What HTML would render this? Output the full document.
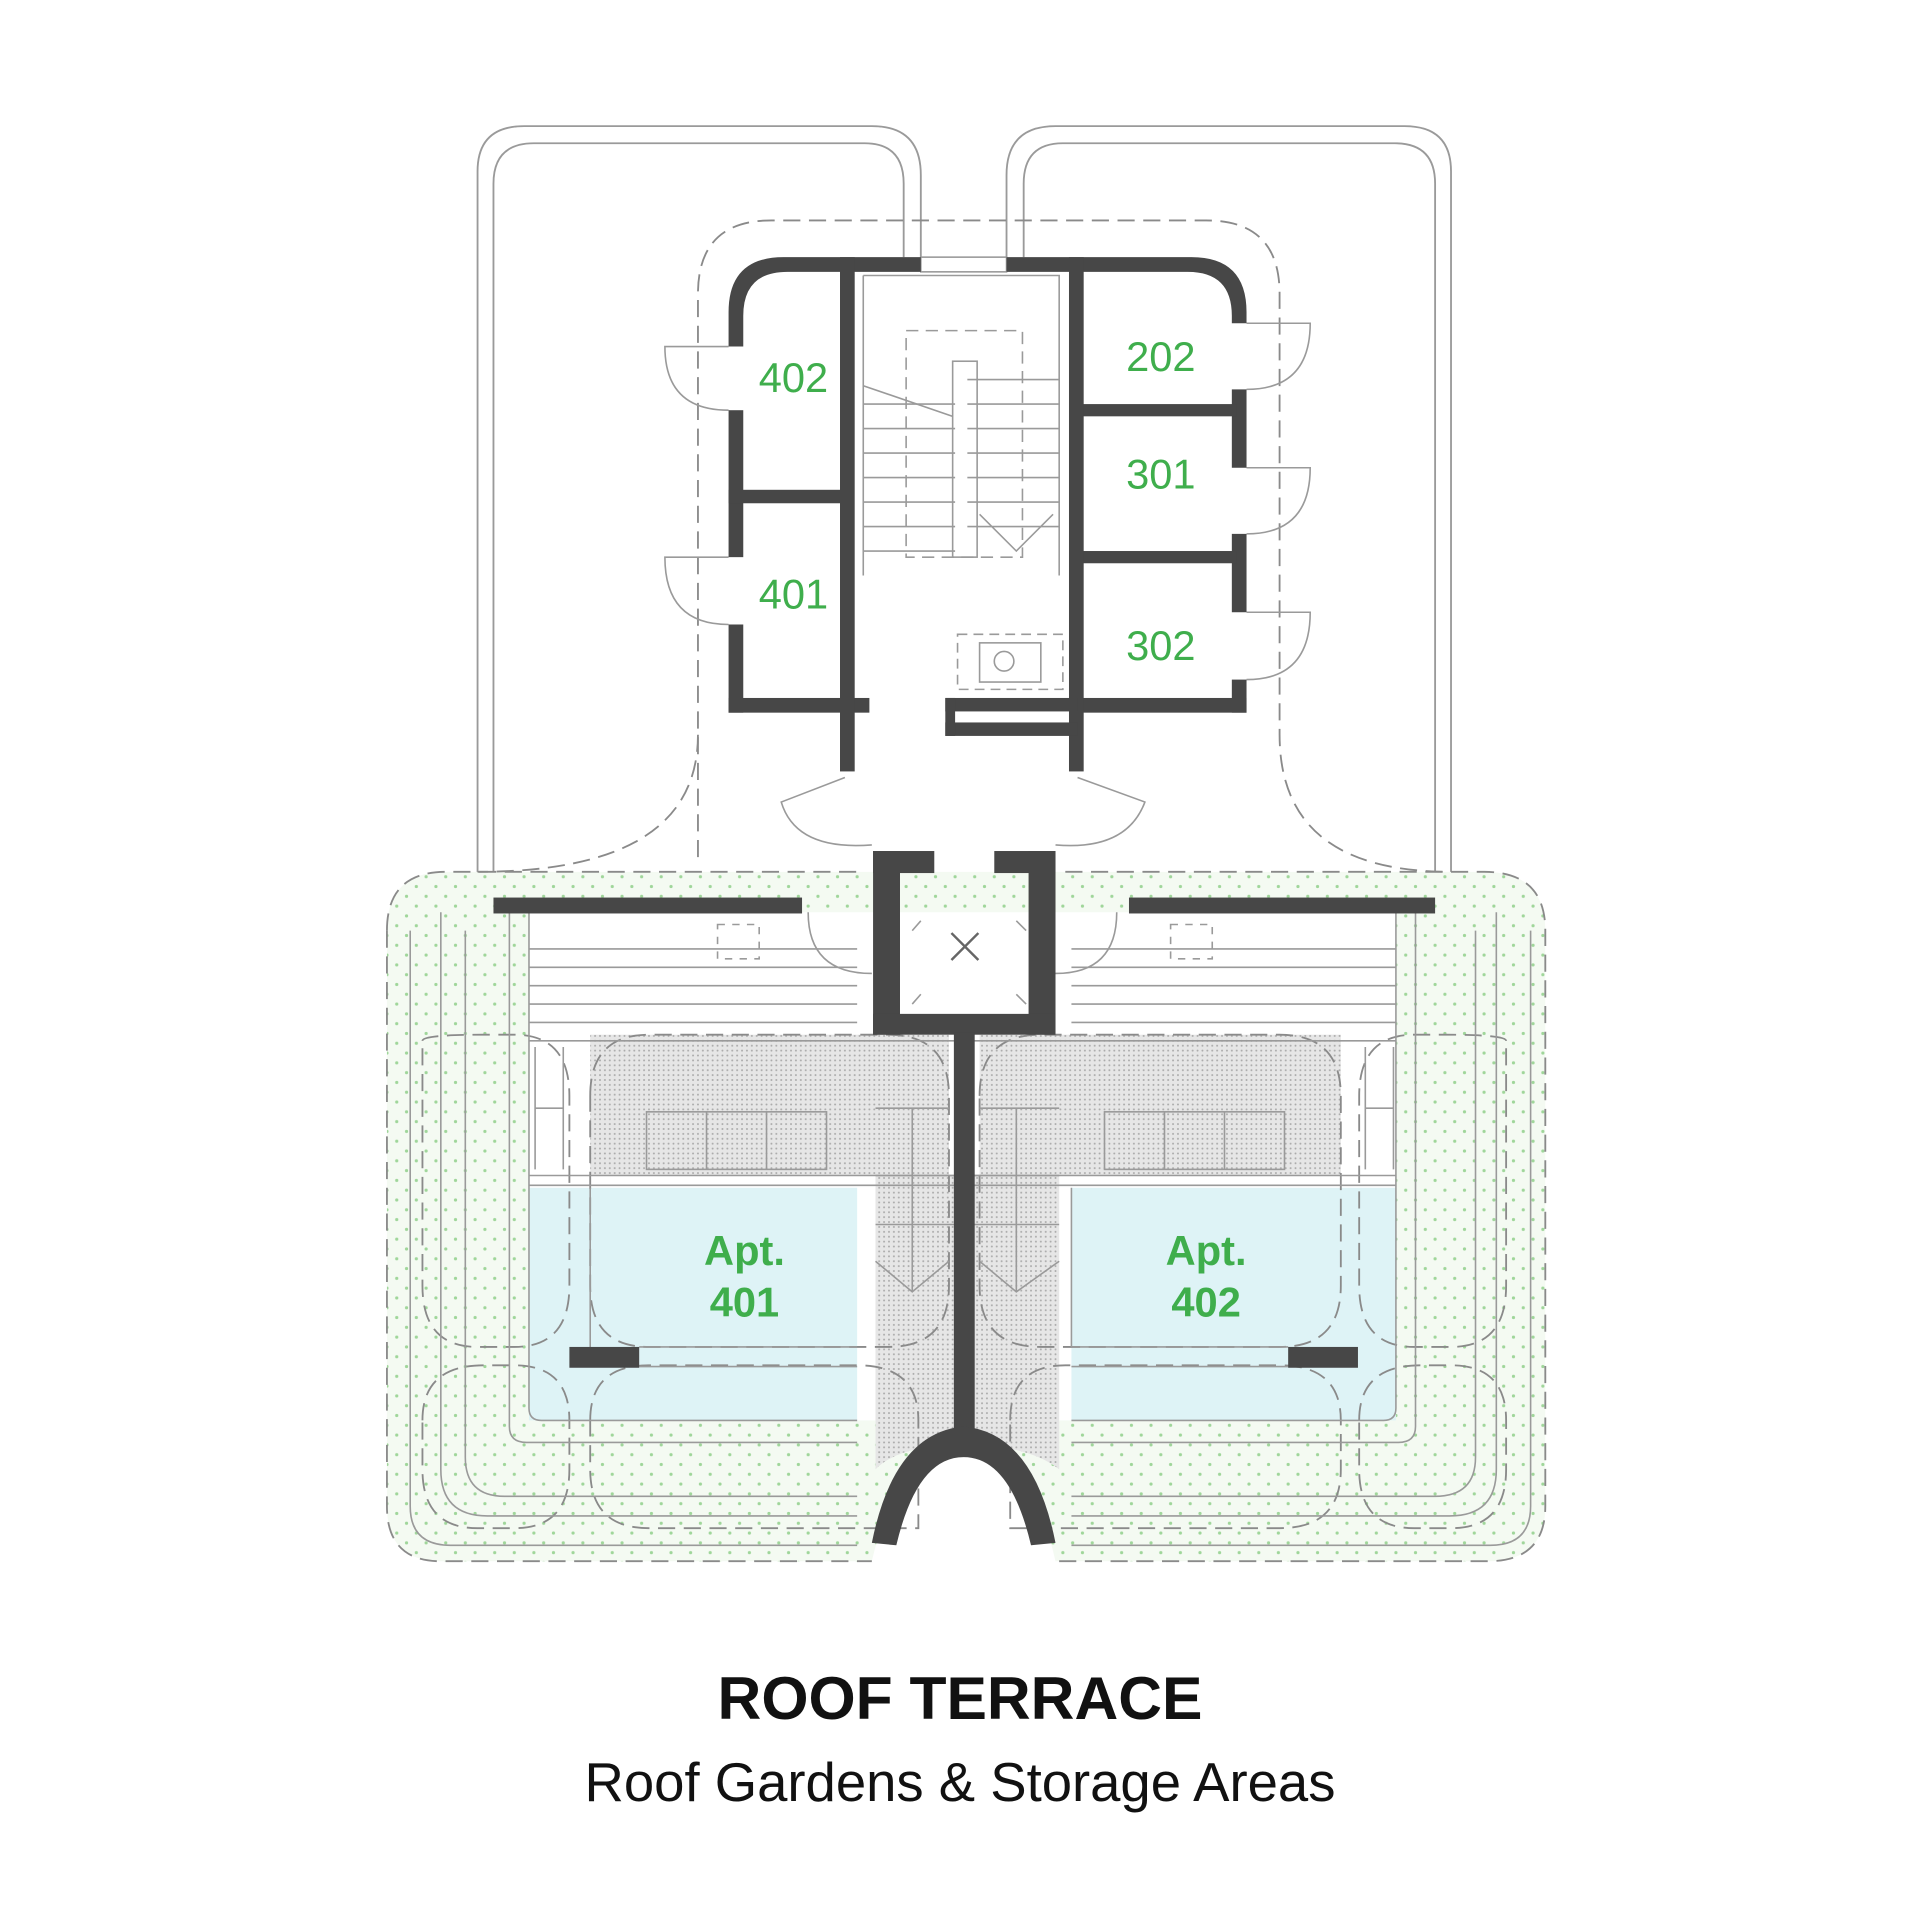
<!DOCTYPE html>
<html><head><meta charset="utf-8"><style>
html,body{margin:0;padding:0;background:#fff;}
svg{display:block;}
</style></head><body>
<svg width="1920" height="1920" viewBox="0 0 1568 1568" xmlns="http://www.w3.org/2000/svg">
<defs>
<pattern id="gd" width="16" height="16" patternUnits="userSpaceOnUse"><rect width="16" height="16" fill="#f4faf2"/><circle cx="4" cy="4" r="1.3" fill="#9fd69a"/><circle cx="12" cy="12" r="1.3" fill="#9fd69a"/></pattern>
<pattern id="st" width="4" height="4" patternUnits="userSpaceOnUse"><rect width="4" height="4" fill="#e6e6e6"/><circle cx="2" cy="2" r="0.8" fill="#aaa"/></pattern>
</defs>
<rect width="1568" height="1568" fill="#fff"/>
<g fill="none" stroke="#9a9a9a" stroke-width="1.5">
<path d="M390 735 V140 Q390 103 428 103 H712 Q752 103 752 143 V210"/>
<path d="M403 735 V150 Q403 117 436 117 H706 Q738 117 738 150 V210"/>
<path d="M1185 735 V140 Q1185 103 1147 103 H862 Q822 103 822 143 V210"/>
<path d="M1172 735 V150 Q1172 117 1139 117 H868 Q836 117 836 150 V210"/>
</g>
<path d="M316 760 Q316 712 364 712 H1212 Q1262 712 1262 760 V1230 Q1262 1275 1215 1275 H862 Q840 1180 787 1180 Q734 1180 712 1275 H360 Q316 1275 316 1230 Z" fill="url(#gd)"/>
<rect x="432" y="745" width="708" height="415" fill="#fff"/>
<rect x="432" y="970" width="268" height="190" fill="#def3f6"/>
<rect x="875" y="970" width="265" height="190" fill="#def3f6"/>
<rect x="482" y="845" width="293" height="115" fill="url(#st)"/>
<rect x="800" y="845" width="295" height="115" fill="url(#st)"/>
<path d="M715 960 H865 V1200 Q840 1180 787 1180 Q734 1180 715 1200 Z" fill="url(#st)"/>
<g fill="none" stroke="#8a8a8a" stroke-width="1.5" stroke-dasharray="14 7">
<path d="M316 760 Q316 712 364 712 H700"/>
<path d="M870 712 H1212 Q1262 712 1262 760 V1230 Q1262 1275 1215 1275 H862"/>
<path d="M316 760 V1230 Q316 1275 360 1275 H712"/>
<path d="M570 700 V240 Q570 180 630 180 H985 Q1045 180 1045 240 V600 Q1045 712 1185 712"/>
<path d="M570 600 Q570 712 390 712"/>
<path d="M345 850 Q345 845 395 845 H420 Q465 845 465 895 V1050 Q465 1100 420 1100 H390 Q345 1100 345 1050 Z"/>
<path d="M1230 850 Q1230 845 1180 845 H1155 Q1110 845 1110 895 V1050 Q1110 1100 1155 1100 H1185 Q1230 1100 1230 1050 Z"/>
<path d="M482 895 Q482 845 530 845 H725 Q775 845 775 895 V1050 Q775 1100 725 1100 H530 Q482 1100 482 1050 Z"/>
<path d="M800 895 Q800 845 850 845 H1045 Q1095 845 1095 895 V1050 Q1095 1100 1045 1100 H850 Q800 1100 800 1050 Z"/>
<path d="M345 1160 Q345 1115 395 1115 H420 Q465 1115 465 1160 V1200 Q465 1248 420 1248 H390 Q345 1248 345 1200 Z"/>
<path d="M1110 1160 Q1110 1115 1160 1115 H1185 Q1230 1115 1230 1160 V1200 Q1230 1248 1185 1248 H1155 Q1110 1248 1110 1200 Z"/>
<path d="M482 1160 Q482 1115 530 1115 H700 Q750 1115 750 1160 V1248 H530 Q482 1248 482 1200 Z"/>
<path d="M825 1160 Q825 1115 870 1115 H1045 Q1095 1115 1095 1160 V1200 Q1095 1248 1045 1248 H825 Z"/>
</g>
<g fill="none" stroke="#9a9a9a" stroke-width="1.3">
<path d="M335 760 V1230 Q335 1262 368 1262 H700"/>
<path d="M1250 760 V1230 Q1250 1262 1217 1262 H875"/>
<path d="M360 745 V1200 Q360 1238 398 1238 H700"/>
<path d="M1222 745 V1200 Q1222 1238 1184 1238 H875"/>
<path d="M380 760 V1190 Q380 1222 412 1222 H700"/>
<path d="M1205 760 V1190 Q1205 1222 1172 1222 H875"/>
<path d="M432 745 V1150 Q432 1160 442 1160 H700"/>
<path d="M1140 745 V1150 Q1140 1160 1130 1160 H875"/>
<path d="M416 745 V1165 Q416 1178 430 1178 H700"/>
<path d="M1156 745 V1165 Q1156 1178 1142 1178 H875"/>
<path d="M432 790 H700 M432 805 H700 M432 820 H700 M432 835 H700 M875 790 H1140 M875 805 H1140 M875 820 H1140 M875 835 H1140"/>
<path d="M432 775 H700 M875 775 H1140"/>
<path d="M432 850 H1140 M432 960 H1140 M432 968 H1140"/>
<path d="M437 855 V955 M460 855 V955 M437 905 H460 M1115 855 V955 M1138 855 V955 M1115 905 H1138"/>
<rect x="528" y="908" width="147" height="47"/><path d="M577 908 V955 M626 908 V955"/>
<rect x="902" y="908" width="147" height="47"/><path d="M951 908 V955 M1000 908 V955"/>
<rect x="586" y="755" width="34" height="28" stroke-dasharray="6 6"/>
<rect x="956" y="755" width="34" height="28" stroke-dasharray="6 6"/>
<path d="M482 970 V1100 M875 970 V1100"/>
<path d="M522 1100 H700 M522 1116 H700 M875 1100 H1052 M875 1116 H1052"/>
<path d="M715 905 H775 M800 905 H865 M715 960 H865 M715 1000 H865 M715 1030 L745 1055 L775 1030 M800 1030 L830 1055 L865 1030 M745 905 V1055 M830 905 V1055"/>
<path d="M660 745 Q660 795 712 795 M912 745 Q912 795 862 795"/>
<path d="M705 225 H865 V470 M705 225 V470"/>
<path d="M705 330 H780 M705 350 H780 M705 370 H780 M705 390 H780 M705 410 H780 M705 430 H780 M705 450 H780 M790 310 H865 M790 330 H865 M790 350 H865 M790 370 H865 M790 390 H865 M790 410 H865 M790 430 H865"/>
<rect x="778" y="295" width="20" height="160"/>
<rect x="740" y="270" width="95" height="185" stroke-dasharray="10 6"/>
<path d="M705 315 L778 340 M800 420 L830 450 L860 420"/>
<rect x="782" y="518" width="86" height="45" stroke-dasharray="8 5"/>
<circle cx="820" cy="540" r="8"/><rect x="800" y="525" width="50" height="32"/>
<rect x="752" y="210" width="70" height="12"/>
<path d="M595 283 H543 Q543 335 595 335 M595 455 H543 Q543 510 595 510 M1018 264 H1070 Q1070 318 1018 318 M1018 382 H1070 Q1070 436 1018 436 M1018 500 H1070 Q1070 555 1018 555"/>
<path d="M690 635 L638 655 Q650 695 712 690 M880 635 L935 655 Q920 695 862 690"/>
<path d="M745 760 L752 752 M830 752 L838 760 M745 820 L752 812 M830 812 L838 820"/>
<path d="M777 762 L799 784 M799 762 L777 784" stroke="#666" stroke-width="2"/>
</g>
<g fill="#474747">
<path d="M595 255 Q595 210 640 210 H752 V222 H643 Q607 222 607 258 V283 H595 Z"/>
<rect x="595" y="335" width="12" height="120"/>
<rect x="595" y="510" width="12" height="72"/>
<rect x="595" y="570" width="115" height="12"/>
<rect x="595" y="400" width="100" height="11"/>
<rect x="686" y="210" width="12" height="420"/>
<path d="M1018 255 Q1018 210 973 210 H822 V222 H970 Q1006 222 1006 258 V264 H1018 Z"/>
<rect x="1006" y="318" width="12" height="64"/>
<rect x="1006" y="436" width="12" height="64"/>
<rect x="1006" y="555" width="12" height="27"/>
<rect x="875" y="570" width="143" height="12"/>
<rect x="880" y="330" width="130" height="10"/>
<rect x="880" y="450" width="130" height="10"/>
<rect x="873" y="210" width="12" height="420"/>
<rect x="772" y="570" width="108" height="11"/>
<rect x="772" y="590" width="108" height="11"/>
<rect x="772" y="570" width="8" height="31"/>
<rect x="713" y="695" width="50" height="18"/>
<rect x="812" y="695" width="50" height="18"/>
<rect x="713" y="695" width="22" height="150"/>
<rect x="840" y="695" width="22" height="150"/>
<rect x="713" y="828" width="149" height="17"/>
<rect x="403" y="733" width="252" height="13"/>
<rect x="922" y="733" width="250" height="13"/>
<rect x="779" y="843" width="17" height="330"/>
<rect x="465" y="1100" width="57" height="17"/>
<rect x="1052" y="1100" width="57" height="17"/>
<path d="M712 1260 Q730 1170 787 1165 Q844 1170 862 1260 L842 1262 Q825 1190 787 1190 Q749 1190 732 1262 Z"/>
</g>
<g font-family="Liberation Sans, sans-serif" fill="#3fae4c" font-size="34" text-anchor="middle">
<text x="648" y="320">402</text>
<text x="648" y="497">401</text>
<text x="948" y="303">202</text>
<text x="948" y="399">301</text>
<text x="948" y="539">302</text>
<text x="608" y="1033" font-weight="bold">Apt.</text>
<text x="608" y="1075" font-weight="bold">401</text>
<text x="985" y="1033" font-weight="bold">Apt.</text>
<text x="985" y="1075" font-weight="bold">402</text>
</g>
<text x="784" y="1404" font-family="Liberation Sans, sans-serif" font-weight="bold" font-size="49.5" text-anchor="middle" fill="#111">ROOF TERRACE</text>
<text x="784" y="1471" font-family="Liberation Sans, sans-serif" font-size="44.5" text-anchor="middle" fill="#111">Roof Gardens &amp; Storage Areas</text>
</svg>
</body></html>
